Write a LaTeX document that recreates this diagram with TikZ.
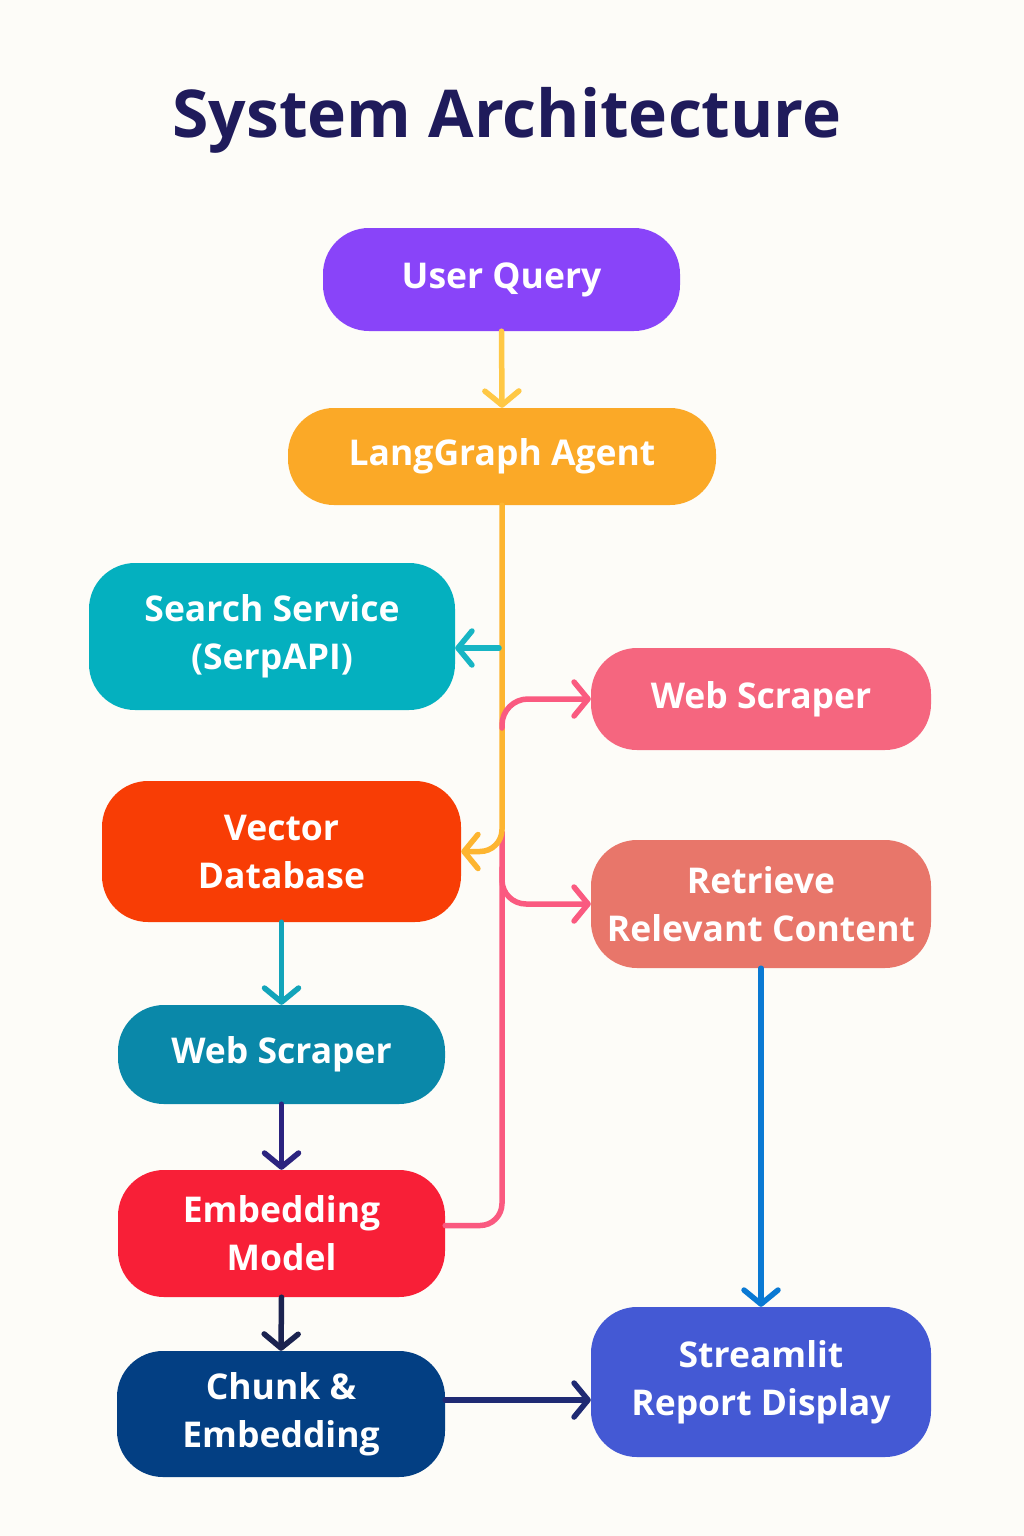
\documentclass[tikz,border=0pt]{standalone}
\usepackage{fontspec}
\setmainfont{Open Sans}
\usetikzlibrary{arrows.meta}
\definecolor{bgc}{HTML}{FDFCF8}
\definecolor{titlec}{HTML}{1F1B5B}
\definecolor{uqc}{HTML}{8944F9}
\definecolor{lgc}{HTML}{FBA927}
\definecolor{searchc}{HTML}{04B0BF}
\definecolor{wsrc}{HTML}{F5667F}
\definecolor{vdbc}{HTML}{F83D05}
\definecolor{retc}{HTML}{E8766A}
\definecolor{wslc}{HTML}{0A88A9}
\definecolor{embc}{HTML}{F81F37}
\definecolor{chunkc}{HTML}{033F83}
\definecolor{stc}{HTML}{4459D4}
\definecolor{a1}{HTML}{FFC845}
\definecolor{a2}{HTML}{FDB530}
\definecolor{a3}{HTML}{17B5C4}
\definecolor{a4}{HTML}{FA5A80}
\definecolor{a5}{HTML}{12A4BA}
\definecolor{a6}{HTML}{2B237F}
\definecolor{a7}{HTML}{1B2350}
\definecolor{a8}{HTML}{1F2A73}
\definecolor{a9}{HTML}{0A79D3}
\begin{document}
\begin{tikzpicture}[x=1pt,y=-1pt,
  box/.style={rounded corners=46pt, inner sep=0pt, text=white,
    font=\fontsize{35.5}{48}\selectfont\bfseries, align=center},
  conn/.style={line width=5.5pt, line cap=round, line join=round,
    -{Straight Barb[length=14pt,width=34pt,round]}},
  plain/.style={line width=5.5pt, line cap=round, line join=round}]
\useasboundingbox (0,0) rectangle (1024,1536);
\fill[bgc] (0,0) rectangle (1024,1536);
\node[font=\fontsize{66}{80}\selectfont\bfseries, text=titlec] (title) at (507,120) {System Architecture};

\node[box, fill=uqc, minimum width=357pt, minimum height=103pt] (uq) at (501.5,279.5) {User Query};
\node[box, fill=lgc, minimum width=428pt, minimum height=97pt] (lg) at (502,456.5) {LangGraph Agent};
\node[box, fill=searchc, minimum width=366pt, minimum height=147pt] (search) at (272,636.5) {Search Service\\(SerpAPI)};
\node[box, fill=wsrc, minimum width=340pt, minimum height=102pt] (wsr) at (761,699) {Web Scraper};
\node[box, fill=vdbc, minimum width=359pt, minimum height=141pt] (vdb) at (281.5,851.5) {Vector\\Database};
\node[box, fill=retc, minimum width=340pt, minimum height=128pt] (ret) at (761,904) {Retrieve\\Relevant Content};
\node[box, fill=wslc, minimum width=327pt, minimum height=99pt] (wsl) at (281.5,1054.5) {Web Scraper};
\node[box, fill=embc, minimum width=327pt, minimum height=127pt] (emb) at (281.5,1233.5) {Embedding\\Model};
\node[box, fill=chunkc, minimum width=328pt, minimum height=126pt] (chunk) at (281,1414) {Chunk \&\\Embedding};
\node[box, fill=stc, minimum width=340pt, minimum height=150pt] (st) at (761,1382) {Streamlit\\Report Display};

\coordinate (b1) at (499,648);
\coordinate (b2) at (502,728);
\coordinate (b3) at (502,868);
\coordinate (b4) at (502,832);

% pink line from embedding up to trunk
\draw[plain, a4, rounded corners=22pt] ([yshift=8pt]emb.east) -| (b4);
\draw[conn, a4, rounded corners=24pt] (b3) |- (ret.west);
% trunk
\draw[conn, a2, rounded corners=22pt] (lg.south) |- (vdb.east);
\draw[conn, a3] (b1) -- (b1 -| search.east);
\draw[conn, a4, rounded corners=26pt] (b2) |- (wsr.west);

\draw[conn, a1] (uq.south) -- (lg.north);
\draw[conn, a5] (vdb.south) -- (wsl.north);
\draw[conn, a6] (wsl.south) -- (emb.north);
\draw[conn, a7] (emb.south) -- (chunk.north);
\draw[conn, a8] ([yshift=14pt]chunk.east) -- ([yshift=-18pt]st.west);
\draw[conn, a9] (ret.south) -- (st.north);
\end{tikzpicture}
\end{document}
